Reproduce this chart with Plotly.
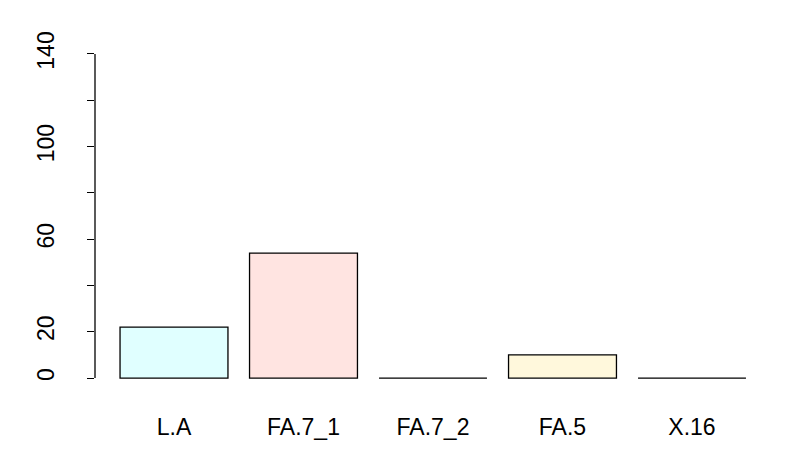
import plotly.graph_objects as go

categories = ["L.A", "FA.7_1", "FA.7_2", "FA.5", "X.16"]
values = [22, 54, 0, 10, 0]
colors = ["#E0FFFF", "#FFE4E1", "#F0FFF0", "#FFF8DC", "#F0F8FF"]

y_ticks = [0, 20, 40, 60, 80, 100, 120, 140]
y_labels = ["0", "20", "", "60", "", "100", "", "140"]

# R barplot style: width 1, space 0.2
x_pos = [0.7 + 1.2 * i for i in range(len(categories))]

fig = go.Figure(
    go.Bar(
        x=x_pos,
        y=values,
        width=1,
        marker=dict(color=colors, line=dict(color="black", width=1.3)),
    )
)

# page body adds an 8px margin, so the figure is a bit smaller
fig.update_layout(
    width=781,
    height=465,
    margin=dict(l=87, r=17.5, t=33, b=82),
    plot_bgcolor="white",
    paper_bgcolor="white",
    font=dict(family="Liberation Sans, Arial, sans-serif", size=23, color="black"),
    showlegend=False,
    shapes=[
        dict(type="line", xref="paper", yref="y", x0=0, x1=0, y0=0, y1=140,
             line=dict(color="black", width=1.3)),
    ],
)
fig.update_xaxes(
    range=[-0.032, 6.232],
    tickvals=x_pos,
    ticktext=categories,
    tickfont=dict(size=23),
    ticks="",
    showgrid=False,
    zeroline=False,
    showline=False,
    ticklabelstandoff=20,
)
fig.update_yaxes(
    range=[-5.6, 145.6],
    tickvals=y_ticks,
    ticktext=y_labels,
    tickfont=dict(size=23),
    tickangle=-90,
    ticks="outside",
    ticklen=7,
    tickwidth=1.3,
    tickcolor="black",
    showgrid=False,
    zeroline=False,
    showline=False,
    ticklabelstandoff=24,
)

fig.write_html("out.html")
